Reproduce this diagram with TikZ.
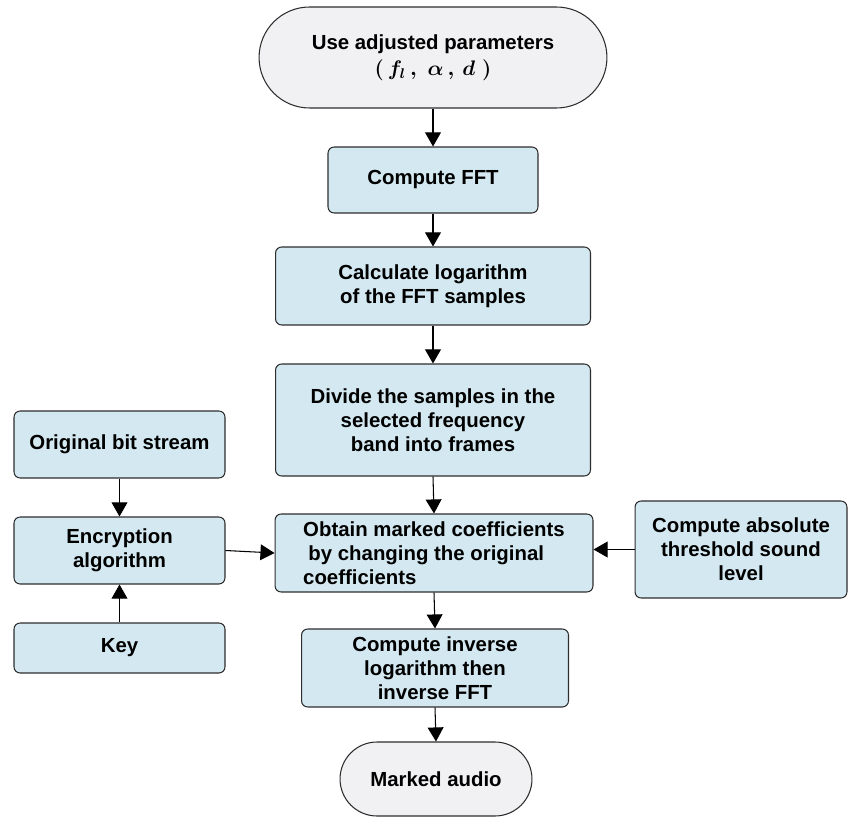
\documentclass[tikz,border=0pt]{standalone}
\usepackage{amsmath,amssymb}
\usepackage{fontspec}
\setmainfont{Liberation Sans}
\usetikzlibrary{arrows.meta,shapes.misc}
\definecolor{boxFill}{RGB}{211,232,240}
\definecolor{termFill}{RGB}{241,241,244}
\definecolor{edgeGray}{RGB}{45,45,45}

\begin{document}
\begin{tikzpicture}[x=0.02cm, y=-0.02cm, >={Triangle[length=8pt,width=9pt]},
    stepbox/.style={draw=edgeGray, fill=boxFill, rounded corners=3.5pt, line width=0.6pt,
      align=center, inner sep=2pt, font=\fontsize{11.6}{13.6}\selectfont\bfseries},
    terminal/.style={draw=edgeGray, fill=termFill, rounded rectangle, line width=0.6pt,
      align=center, inner sep=2pt, font=\fontsize{11.6}{13.6}\selectfont\bfseries},
    flow/.style={->, line width=0.6pt, black}]
    \useasboundingbox (0,0) rectangle (848,817);

    % main column
    \node[terminal, minimum width=7.1cm, minimum height=2.02cm] (start) at (433,57.5)
      {Use adjusted parameters\\[1pt]{\large\boldmath$(\,f_l\,,\;\alpha\,,\,d\;)$}};
    \node[stepbox, minimum width=4.2cm, minimum height=1.32cm] (fft) at (433,180) {Compute FFT};
    \node[stepbox, minimum width=6.3cm, minimum height=1.56cm] (logc) at (433,286)
      {Calculate logarithm\\of the FFT samples};
    \node[stepbox, minimum width=6.3cm, minimum height=2.24cm] (frames) at (433,420)
      {Divide the samples in the\\selected frequency\\band into frames};
    \node[stepbox, minimum width=6.36cm, minimum height=1.56cm, align=left] (mark) at (434,553)
      {Obtain marked coefficients\\\hspace{3pt}by changing the original\\coefficients};
    \node[stepbox, minimum width=5.34cm, minimum height=1.56cm] (inv) at (435,668)
      {Compute inverse\\logarithm then\\inverse FFT};
    \node[terminal, minimum width=3.98cm, minimum height=1.48cm] (audio) at (436,779)
      {Marked audio};

    % side inputs
    \node[stepbox, minimum width=4.22cm, minimum height=1.34cm] (bits) at (119.5,444.5)
      {Original bit stream};
    \node[stepbox, minimum width=4.22cm, minimum height=1.34cm] (enc) at (119.5,550.5)
      {Encryption\\algorithm};
    \node[stepbox, minimum width=4.22cm, minimum height=1.0cm] (key) at (119.5,648) {Key};
    \node[stepbox, minimum width=4.24cm, minimum height=1.94cm] (ath) at (741,549.5)
      {Compute absolute\\threshold sound\\level};

    \draw[flow] (start.south) -- (fft.north);
    \draw[flow] (fft.south) -- (logc.north);
    \draw[flow] (logc.south) -- (frames.north);
    \draw[flow] (frames.south) -- (mark.north);
    \draw[flow] (mark.south) -- (inv.north);
    \draw[flow] (inv.south) -- (audio.north);

    \draw[flow] (bits.south) -- (enc.north);
    \draw[flow] (key.north) -- (enc.south);
    \draw[flow] (enc.east) -- (mark.west);
    \draw[flow] (ath.west) -- (mark.east |- ath.west);
  \end{tikzpicture}
\end{document}
